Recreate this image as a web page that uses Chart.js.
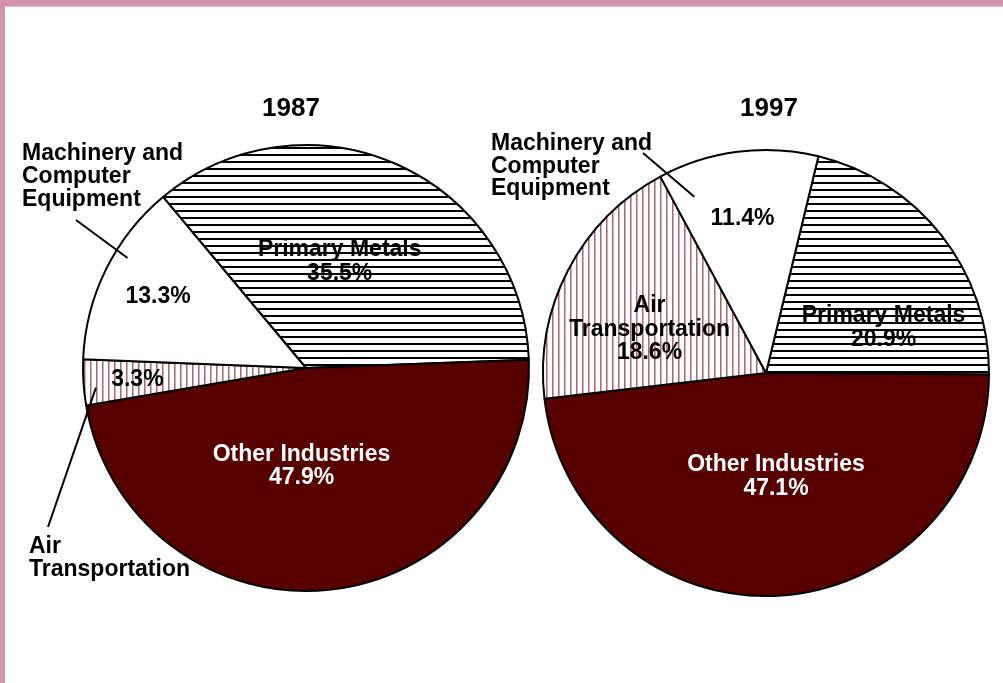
<!DOCTYPE html>
<html>
<head>
<meta charset="utf-8">
<title>1987 vs 1997</title>
<script src="https://cdn.jsdelivr.net/npm/chart.js@4.4.1/dist/chart.umd.min.js"></script>
<style>
  html, body { margin: 0; padding: 0; background: #fff; }
  #page { position: relative; width: 1003px; height: 683px; overflow: hidden; background: #fff; }
  #page .top { position: absolute; left: 0; top: 0; width: 1003px; height: 6px; background: #d392ab; border-bottom: 1px solid #e8bfcf; }
  #page .left { position: absolute; left: 0; top: 0; width: 5px; height: 683px; background: #d392ab; }
  canvas { position: absolute; left: 0; top: 0; }
</style>
</head>
<body>
<div id="page">
  <div class="top"></div>
  <div class="left"></div>
  <canvas id="pie1987" width="1003" height="683"></canvas>
  <canvas id="pie1997" width="1003" height="683"></canvas>
</div>
<script>
// slice order is clockwise from the start angle
var categories = ["Primary Metals", "Other Industries", "Air Transportation", "Machinery and Computer Equipment"];
var years = ["1987", "1997"];
var share1987 = [35.5, 47.9, 3.3, 13.3];
var share1997 = [20.9, 47.1, 18.6, 11.4];

// names printed inside the slices (empty = value only)
var inside1987 = [["Primary Metals"], ["Other Industries"], [], []];
var inside1997 = [["Primary Metals"], ["Other Industries"], ["Air", "Transportation"], []];

var FONT = '"Liberation Sans", Arial, sans-serif';

function stripeTile(w, h, draw) {
  var c = document.createElement("canvas");
  c.width = w; c.height = h;
  var g = c.getContext("2d");
  g.fillStyle = "#fff";
  g.fillRect(0, 0, w, h);
  draw(g);
  return g.createPattern(c, "repeat");
}

var hLines = stripeTile(8, 7, function (g) {
  g.fillStyle = "#000";
  g.fillRect(0, 0, 8, 2);
});
var vLines = stripeTile(6, 8, function (g) {
  g.fillStyle = "rgb(165,105,110)";
  g.fillRect(0, 0, 1, 8);
  g.fillStyle = "rgb(212,175,178)";
  g.fillRect(1, 0, 1, 8);
});
var fills = [hLines, "#560000", vLines, "#ffffff"];
var textColors = ["#000", "#fff", "#000", "#000"];

var pieText = {
  id: "pieText",
  afterDatasetsDraw: function (chart, args, opts) {
    var ctx = chart.ctx;
    var arcs = chart.getDatasetMeta(0).data;
    var values = chart.data.datasets[0].data;
    var ca = chart.chartArea;
    var lh = 23.5;
    ctx.save();

    // title
    ctx.fillStyle = "#000";
    ctx.font = "bold 26px " + FONT;
    ctx.textAlign = "center";
    ctx.textBaseline = "alphabetic";
    ctx.fillText(opts.title, (ca.left + ca.right) / 2 + opts.titleDx, opts.titleY);

    // labels inside slices
    ctx.font = "bold 23px " + FONT;
    ctx.textBaseline = "middle";
    arcs.forEach(function (arc, i) {
      var p = arc.getProps(["x", "y", "startAngle", "endAngle", "outerRadius"], true);
      var place = opts.inside[i];
      var a = (p.startAngle + p.endAngle) / 2 + place.da * Math.PI / 180;
      var x = p.x + Math.cos(a) * place.r * p.outerRadius;
      var y = p.y + Math.sin(a) * place.r * p.outerRadius;
      var lines = opts.names[i].concat([values[i].toFixed(1) + "%"]);
      ctx.fillStyle = textColors[i];
      lines.forEach(function (t, k) {
        ctx.fillText(t, x, y + (k - (lines.length - 1) / 2) * lh);
      });
    });

    // callouts with leader lines
    ctx.textAlign = "left";
    ctx.textBaseline = "alphabetic";
    ctx.fillStyle = "#000";
    ctx.strokeStyle = "#000";
    ctx.lineWidth = 2;
    opts.callouts.forEach(function (c) {
      var p = arcs[c.index].getProps(["x", "y", "startAngle", "endAngle", "outerRadius"], true);
      var a = (p.startAngle + p.endAngle) / 2 + c.da * Math.PI / 180;
      ctx.beginPath();
      ctx.moveTo(c.from[0], c.from[1]);
      ctx.lineTo(p.x + Math.cos(a) * c.r * p.outerRadius, p.y + Math.sin(a) * c.r * p.outerRadius);
      ctx.stroke();
      c.lines.forEach(function (t, k) {
        ctx.fillText(t, c.textX, c.textY + k * c.lh);
      });
    });
    ctx.restore();
  }
};

function makePie(id, values, rotation, padding, text) {
  return new Chart(document.getElementById(id), {
    type: "pie",
    data: {
      labels: categories,
      datasets: [{
        data: values,
        backgroundColor: fills,
        borderColor: "#000",
        borderWidth: 2
      }]
    },
    options: {
      responsive: false,
      animation: false,
      rotation: rotation,
      layout: { padding: padding },
      events: [],
      plugins: {
        legend: { display: false },
        tooltip: { enabled: false },
        pieText: text
      }
    },
    plugins: [pieText]
  });
}

makePie("pie1987", share1987, -39.9, { left: 82, top: 144, right: 473, bottom: 91 }, {
  title: years[0], titleDx: -15, titleY: 116,
  names: inside1987,
  inside: [{ r: 0.50, da: -6.4 }, { r: 0.44, da: 8.5 }, { r: 0.758, da: -0.4 }, { r: 0.736, da: -0.5 }],
  callouts: [
    { index: 3, r: 0.94, da: 5.5, from: [76, 220], lines: ["Machinery and", "Computer", "Equipment"], textX: 22, textY: 160, lh: 23 },
    { index: 2, r: 0.946, da: -1.6, from: [48, 527], lines: ["Air", "Transportation"], textX: 29, textY: 553, lh: 22.5 }
  ]
});

makePie("pie1997", share1997, 13.6, { left: 542, top: 149, right: 13, bottom: 86 }, {
  title: years[1], titleDx: 3, titleY: 116,
  names: inside1997,
  inside: [{ r: 0.565, da: 16.9 }, { r: 0.467, da: -2.4 }, { r: 0.558, da: -7.0 }, { r: 0.70, da: -1.3 }],
  callouts: [
    { index: 3, r: 0.853, da: -14.8, from: [643, 153], lines: ["Machinery and", "Computer", "Equipment"], textX: 491, textY: 150, lh: 22.5 }
  ]
});
</script>
</body>
</html>
